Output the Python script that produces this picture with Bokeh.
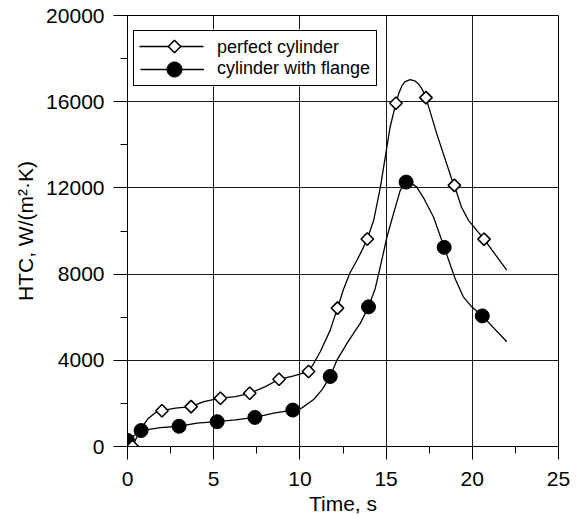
import math

from bokeh.plotting import figure
from bokeh.models import (Range1d, SingleIntervalTicker, Legend, LegendItem,
                          PolyAnnotation, BoxAnnotation)
from bokeh.embed import file_html
from bokeh.resources import INLINE

FONT = "Liberation Sans"

# Measured heat transfer coefficient, perfect cylinder
perfect_t = [0.29, 2.0, 3.69, 5.39, 7.09, 8.79, 10.5, 12.18, 13.91, 15.57, 17.31, 18.96, 20.68]
perfect_htc = [0, 1660, 1850, 2240, 2470, 3120, 3480, 6420, 9630, 15930, 16190, 12116, 9620]

# Measured heat transfer coefficient, cylinder with flange
flange_t = [0.0, 0.79, 2.99, 5.2, 7.39, 9.59, 11.76, 13.98, 16.16, 18.37, 20.58]
flange_htc = [280, 741, 940, 1150, 1350, 1690, 3250, 6480, 12270, 9240, 6060]

# Smoothed trend curves
perfect_curve_t = [0.29, 0.75, 1.2, 1.6, 2.0, 2.78, 3.69, 4.42, 5.39, 6.26, 7.09, 8.0,
                   8.79, 9.64, 10.5, 10.8, 11.18, 11.76, 12.18, 12.53, 12.9, 13.31, 13.6,
                   13.91, 14.28, 14.67, 15.0, 15.23, 15.57, 15.75, 15.92, 16.1, 16.4,
                   16.7, 16.88, 17.1, 17.31, 17.94, 18.8, 18.96, 19.37, 19.78, 20.68, 22.0]
perfect_curve_htc = [0, 800, 1300, 1560, 1660, 1776, 1850, 2083, 2240, 2315, 2470, 2778,
                     3120, 3273, 3480, 3850, 4398, 5400, 6420, 7300, 8050, 8644, 9100,
                     9630, 10495, 12037, 13674, 14815, 15930, 16420, 16745, 16930, 17023,
                     16950, 16824, 16560, 16190, 14509, 12426, 12116, 11111, 10495, 9620, 8180]

flange_curve_t = [0.0, 0.79, 1.91, 2.99, 4.03, 5.2, 6.26, 7.39, 8.48, 9.59, 10.1, 10.8,
                  11.3, 11.76, 12.15, 12.73, 13.11, 13.5, 13.98, 14.37, 14.66, 15.05,
                  15.43, 15.82, 16.16, 16.45, 16.78, 17.2, 17.75, 18.37, 19.0, 19.48,
                  19.97, 20.58, 22.0]
flange_curve_htc = [280, 741, 880, 940, 1083, 1150, 1236, 1350, 1546, 1690, 1780, 2180,
                    2650, 3250, 4012, 4787, 5250, 5713, 6480, 7333, 8333, 9722,
                    10806, 11884, 12270, 12230, 12037, 11500, 10648, 9240, 7796, 6944,
                    6481, 6060, 4861]

x_ticks_step = 5
y_ticks_step = 4000

p = figure(width=581, height=517,
           x_range=Range1d(0, 25), y_range=Range1d(0, 20000),
           output_backend="svg", toolbar_location=None,
           min_border_left=127, min_border_right=23,
           min_border_top=15, min_border_bottom=70)

p.background_fill_color = "white"
p.border_fill_color = "white"
p.outline_line_color = "black"
p.outline_line_width = 1

xt = SingleIntervalTicker(interval=x_ticks_step, num_minor_ticks=2)
yt = SingleIntervalTicker(interval=y_ticks_step, num_minor_ticks=2)
p.xaxis.ticker = xt
p.yaxis.ticker = yt
p.xgrid.ticker = xt
p.ygrid.ticker = yt

for g in (p.xgrid, p.ygrid):
    g.grid_line_color = "#1a1a1a"
    g.grid_line_width = 1
    g.grid_line_alpha = 1

for ax in (p.xaxis, p.yaxis):
    ax.axis_line_color = "black"
    ax.major_tick_line_color = "black"
    ax.minor_tick_line_color = "black"
    ax.major_tick_in = 0
    ax.minor_tick_in = 0
    ax.major_tick_out = 14
    ax.minor_tick_out = 7
    ax.major_label_text_font = FONT
    ax.major_label_text_font_size = "21px"
    ax.major_label_text_color = "black"
    ax.axis_label_text_font = FONT
    ax.axis_label_text_font_size = "21px"
    ax.axis_label_text_font_style = "normal"
    ax.axis_label_text_color = "black"

p.xaxis.major_tick_out = 13
p.xaxis.major_label_standoff = 12
p.yaxis.major_label_standoff = 9
p.xaxis.axis_label = "Time, s"
p.yaxis.axis_label = "HTC, W/(m\u00b2\u00b7K)"
p.xaxis.axis_label_standoff = 3
p.yaxis.axis_label_standoff = 6

# Flange series first, perfect cylinder drawn on top
line_f = p.line(flange_curve_t, flange_curve_htc, line_color="black", line_width=1.3)
mark_f = p.scatter(flange_t, flange_htc, marker="circle", size=14,
                   fill_color="black", line_color="black", line_width=1)
line_p = p.line(perfect_curve_t, perfect_curve_htc, line_color="black", line_width=1.3)
mark_p = p.scatter(perfect_t, perfect_htc, marker="square", angle=math.pi / 4, size=8.8,
                   fill_color="white", line_color="black", line_width=1.6)

# ---- legend (frame pixels, origin at the bottom-left of the plot area) ----
box_l, box_r, box_b, box_t = 6, 249, 360, 417
key_x0, key_x1, key_xc = 12, 76, 47
row1_y, row2_y = 400, 377

# white backing of the legend box
p.add_layout(BoxAnnotation(left=box_l, right=box_r, bottom=box_b, top=box_t,
                           left_units="screen", right_units="screen",
                           bottom_units="screen", top_units="screen",
                           fill_color="white", fill_alpha=1,
                           line_color="white", line_alpha=0, line_width=1))

# key of the first row: line with an open diamond
p.add_layout(PolyAnnotation(xs=[key_x0, key_x1], ys=[row1_y, row1_y],
                            xs_units="screen", ys_units="screen",
                            fill_alpha=0, line_color="black", line_alpha=1,
                            line_width=1.3))
kr = 6.2
p.add_layout(PolyAnnotation(xs=[key_xc, key_xc + kr, key_xc, key_xc - kr],
                            ys=[row1_y + kr, row1_y, row1_y - kr, row1_y],
                            xs_units="screen", ys_units="screen",
                            fill_color="white", fill_alpha=1,
                            line_color="black", line_alpha=1, line_width=1.6))

# border, labels and the line key of the second row
leg = Legend(items=[LegendItem(label="perfect cylinder", renderers=[]),
                    LegendItem(label="cylinder with flange", renderers=[line_f])],
             location=(box_l, box_b), margin=0, padding=6, spacing=0,
             glyph_width=64, glyph_height=20, label_height=20, label_standoff=13,
             label_text_font=FONT, label_text_font_size="18px", label_text_color="black",
             border_line_color="black", border_line_width=1, border_line_alpha=1,
             background_fill_alpha=0)
p.add_layout(leg)

# filled circle on the second row
circle_key = Legend(items=[LegendItem(label=" ", renderers=[mark_f])],
                    location=(key_xc - 19, row2_y - 19), margin=0, padding=0, spacing=0,
                    glyph_width=38, glyph_height=38, label_width=1, label_height=1,
                    label_standoff=0, label_text_font_size="1px",
                    border_line_color=None, background_fill_alpha=0)
p.add_layout(circle_key)

open("out.html", "w").write(file_html(p, INLINE))
